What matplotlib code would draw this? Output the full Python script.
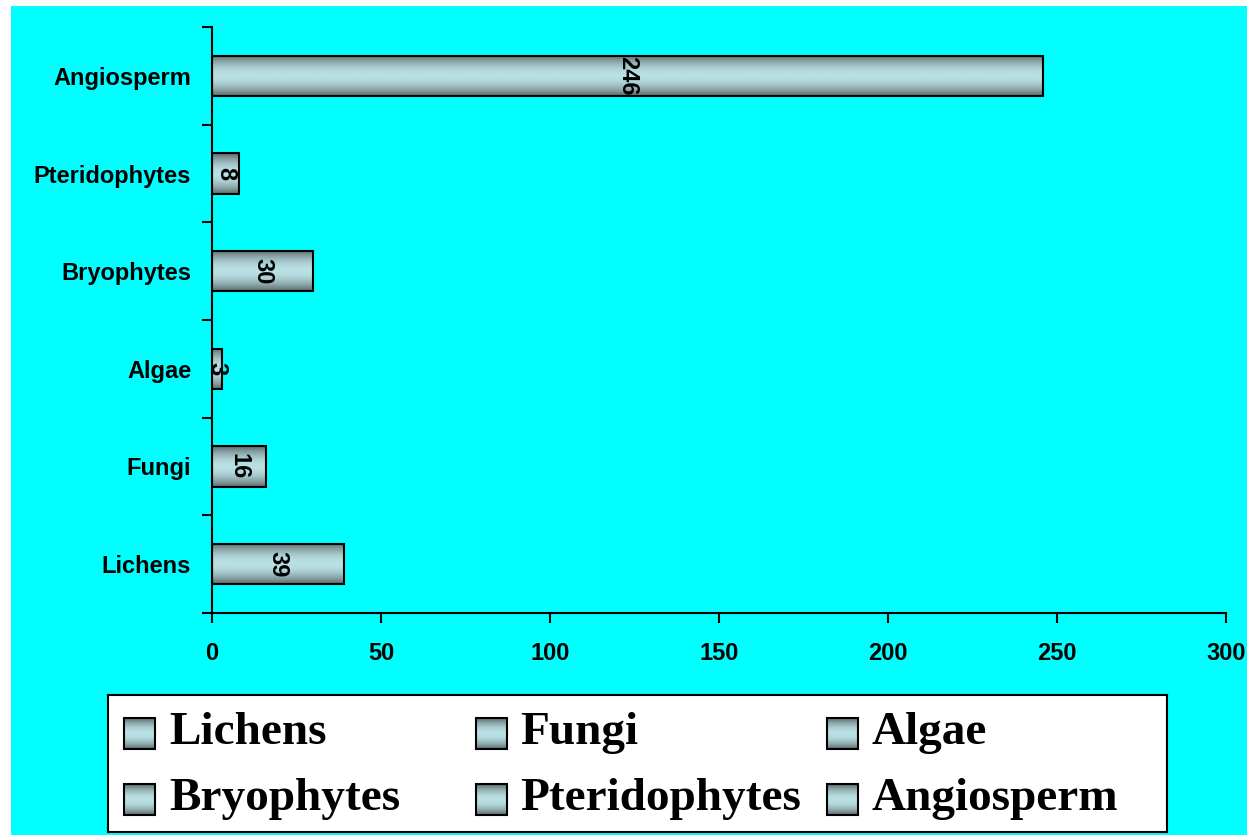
import matplotlib
matplotlib.use('Agg')
import matplotlib.pyplot as plt
import numpy as np
from matplotlib.colors import LinearSegmentedColormap
from matplotlib.patches import Rectangle

# Plant groups and number of species
groups = ['Lichens', 'Fungi', 'Algae', 'Bryophytes', 'Pteridophytes', 'Angiosperm']
counts = [39, 16, 3, 30, 8, 246]
xticks = [0, 50, 100, 150, 200, 250, 300]

# legend is laid out row by row, 3 columns
legend_order = ['Lichens', 'Fungi', 'Algae', 'Bryophytes', 'Pteridophytes', 'Angiosperm']

W, H = 1247, 835
fig = plt.figure(figsize=(W / 100, H / 100), dpi=100, facecolor='white')

# cyan chart area
fig.patches.append(Rectangle((11 / W, 0), 1 - 11 / W, 1 - 6 / H, transform=fig.transFigure,
                             facecolor='#00ffff', edgecolor='none', zorder=-10))

cmap = LinearSegmentedColormap.from_list('steel', ['#56666a', '#8aa4a6', '#b9e0e4'])
t = np.linspace(0, 1, 256)
grad = (np.sin(np.pi * t) ** 0.9).reshape(-1, 1)

ax = fig.add_axes([212 / W, 1 - 613 / H, (1226 - 212) / W, (613 - 27) / H])
ax.set_facecolor('none')

y = np.arange(len(groups))
bars = ax.barh(y, counts, height=0.41, color='none', edgecolor='black', linewidth=1.5, zorder=3)
for b, v in zip(bars, counts):
    ax.imshow(grad, extent=[b.get_x(), b.get_x() + b.get_width(), b.get_y(), b.get_y() + b.get_height()],
              aspect='auto', cmap=cmap, origin='lower', zorder=2, interpolation='bilinear')
    ax.text(v / 2, b.get_y() + b.get_height() / 2, str(v), rotation=-90, ha='center', va='center',
            fontsize=17, fontweight='bold', family='Liberation Sans', zorder=4)

ax.set_aspect('auto')
ax.set_xlim(0, 300)
ax.set_ylim(-0.5, len(groups) - 0.5)

ax.set_xticks(xticks)
ax.set_xticklabels([str(v) for v in xticks])
ax.set_yticks(np.arange(-0.5, len(groups), 1.0))
ax.set_yticklabels([])
ax.set_yticks(y, minor=True)
ax.set_yticklabels(groups, minor=True)
ax.tick_params(axis='y', which='major', length=7, width=1.5, direction='out')
ax.tick_params(axis='y', which='minor', length=0, pad=15)
ax.tick_params(axis='x', length=7, width=1.5, direction='out', pad=14)
for lab in ax.get_xticklabels() + ax.get_yticklabels(minor=True):
    lab.set_fontsize(17)
    lab.set_fontweight('bold')
    lab.set_family('Liberation Sans')

for s in ['top', 'right']:
    ax.spines[s].set_visible(False)
for s in ['left', 'bottom']:
    ax.spines[s].set_linewidth(1.5)

# legend box built by hand (uniform column widths)
lx0, lx1, ly0, ly1 = 108, 1167, 695, 832
lax = fig.add_axes([lx0 / W, 1 - ly1 / H, (lx1 - lx0) / W, (ly1 - ly0) / H])
lax.set_facecolor('white')
lax.set_xlim(0, lx1 - lx0)
lax.set_ylim(0, ly1 - ly0)
lax.set_xticks([])
lax.set_yticks([])
for s in lax.spines.values():
    s.set_linewidth(1.5)

col_w, row_h, msize = 351.5, 66, 31
for i, name in enumerate(legend_order):
    r, c = divmod(i, 3)
    mx = 16 + c * col_w
    cy = (ly1 - ly0) - 38 - r * row_h
    lax.imshow(grad, extent=[mx, mx + msize, cy - msize / 2, cy + msize / 2], aspect='auto',
               cmap=cmap, origin='lower', interpolation='bilinear', zorder=2)
    lax.add_patch(Rectangle((mx, cy - msize / 2), msize, msize, facecolor='none',
                            edgecolor='black', linewidth=1.5, zorder=3))
    lax.text(mx + 45, cy, name, ha='left', va='center', fontsize=34, fontweight='bold',
             family='Liberation Serif')
lax.set_aspect('auto')
lax.set_xlim(0, lx1 - lx0)
lax.set_ylim(0, ly1 - ly0)

fig.savefig('out.png', dpi=100, facecolor='white')
